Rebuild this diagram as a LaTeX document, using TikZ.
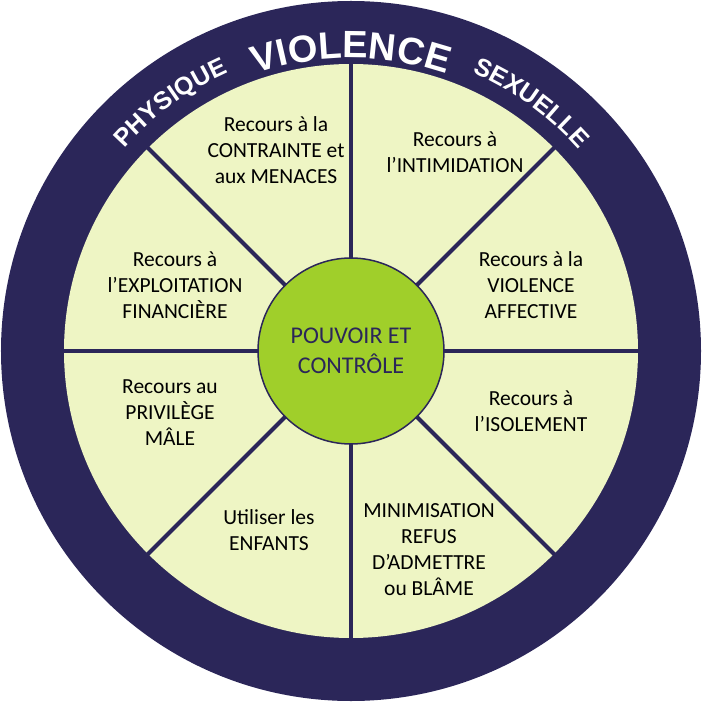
\documentclass[tikz,border=0pt]{standalone}
\usepackage{fontspec}
\setmainfont{Carlito}
\newfontfamily\arcfont{Liberation Sans}
\usetikzlibrary{decorations.text}
\definecolor{navy}{HTML}{2B2659}
\definecolor{pale}{HTML}{EEF5C4}
\definecolor{lime}{HTML}{A0CF2A}
\tikzset{
    seg/.style = {align=center, inner sep=0pt, font=\fontsize{21.5}{26}\selectfont},
    spoke/.style = {draw=navy, line width=4pt},
    arctext/.style = {decorate, decoration={text along path, text align=center, text color=white}}
}
\begin{document}
\begin{tikzpicture}[x=1pt, y=1pt]
    \useasboundingbox (-351,-350) rectangle (352,351);

    \fill[navy] (0,0) circle (350);
    \fill[pale] (0,0) circle (287);
    \foreach \a in {0,45,...,315}
        \draw[spoke] (\a:92) -- (\a:289);
    \node[circle, fill=lime, draw=navy, line width=1.5pt, minimum size=186pt, inner sep=0pt,
          align=center, text=navy, font=\fontsize{24}{30}\selectfont] (core) at (0,0) {POUVOIR ET\\CONTRÔLE};

    % ring words
    \path[arctext, decoration={text={|\arcfont\bfseries\fontsize{38}{38}\selectfont|VIOLENCE}}]
        (112:293) arc[start angle=112, end angle=68, radius=293];
    \path[arctext, decoration={text={|\arcfont\bfseries\fontsize{25}{25}\selectfont|PHYSIQUE}}]
        (148:304) arc[start angle=148, end angle=104, radius=304];
    \path[arctext, decoration={text={|\arcfont\bfseries\fontsize{25}{25}\selectfont|SEXUELLE}}]
        (76:304) arc[start angle=76, end angle=32, radius=304];

    % segments
    \node[seg] (contrainte) at (-75,201) {Recours à la\\CONTRAINTE et\\aux MENACES};
    \node[seg] (intimidation) at (104,199) {Recours à\\l’INTIMIDATION};
    \node[seg] (affective) at (180,66) {Recours à la\\VIOLENCE\\AFFECTIVE};
    \node[seg] (isolement) at (180,-60) {Recours à\\l’ISOLEMENT};
    \node[seg] (minimisation) at (78,-199) {MINIMISATION\\REFUS\\D’ADMETTRE\\ou BLÂME};
    \node[seg] (enfants) at (-82,-179) {Utiliser les\\ENFANTS};
    \node[seg] (privilege) at (-181,-62) {Recours au\\PRIVILÈGE\\MÂLE};
    \node[seg] (exploitation) at (-176,66) {Recours à\\l’EXPLOITATION\\FINANCIÈRE};
\end{tikzpicture}
\end{document}
